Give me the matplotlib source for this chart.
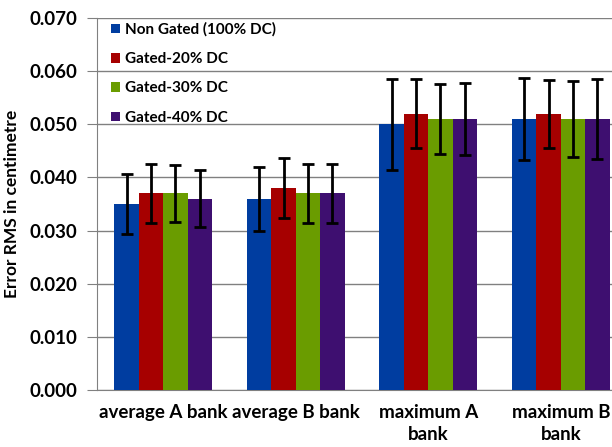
import numpy as np
import matplotlib.pyplot as plt

# datos
categorias = ['average A bank', 'average B bank', 'maximum A\nbank', 'maximum B\nbank']
series = ['Non Gated (100% DC)', 'Gated-20% DC', 'Gated-30% DC', 'Gated-40% DC']

non_gated = [0.035, 0.036, 0.050, 0.051]
gated_20 = [0.037, 0.038, 0.052, 0.052]
gated_30 = [0.037, 0.037, 0.051, 0.051]
gated_40 = [0.036, 0.037, 0.051, 0.051]

err_non_gated = [0.0057, 0.0060, 0.0086, 0.0078]
err_gated_20 = [0.0055, 0.0057, 0.0065, 0.0064]
err_gated_30 = [0.0053, 0.0056, 0.0065, 0.0071]
err_gated_40 = [0.0054, 0.0055, 0.0068, 0.0075]

colores = ['#003da0', '#a60000', '#6a9c00', '#3e0f70']

plt.rcParams['font.family'] = ['Lato', 'DejaVu Sans']
plt.rcParams['font.weight'] = 'bold'

fig = plt.figure(figsize=(6.12, 4.47), dpi=100)
# el área del gráfico se sale por la derecha, como en el original
ax = fig.add_axes([97/612, 1 - 390/447, 530/612, 372/447])

x = np.arange(len(categorias))
ancho = 0.184
valores = [non_gated, gated_20, gated_30, gated_40]
errores = [err_non_gated, err_gated_20, err_gated_30, err_gated_40]

for i, (v, e) in enumerate(zip(valores, errores)):
    ax.bar(x + (i - 1.5) * ancho, v, ancho, color=colores[i], label=series[i],
           yerr=e, capsize=4, error_kw=dict(ecolor='black', elinewidth=2, capthick=2),
           zorder=3)

ax.set_xlim(-0.5, 3.5)
ax.set_ylim(0, 0.070)
ax.set_yticks(np.arange(0, 0.0701, 0.01))
ax.set_yticklabels([f'{t:.3f}' for t in np.arange(0, 0.0701, 0.01)], fontsize=13.5, fontweight='bold')
ax.set_xticks(x)
ax.set_xticklabels(categorias, fontsize=13.5, fontweight='bold', linespacing=1.35)
ax.tick_params(axis='x', length=0, pad=10)
ax.tick_params(axis='y', length=7, color='#808080', pad=7)
ax.grid(axis='y', color='#808080', linewidth=1, zorder=0)
for s in ['top', 'right']:
    ax.spines[s].set_visible(False)
for s in ['left', 'bottom']:
    ax.spines[s].set_color('#808080')
ax.set_ylabel('Error RMS in centimetre', fontsize=12.5, fontweight='bold', labelpad=7)

ax.legend(loc='upper left', bbox_to_anchor=(0.0, 1.025), frameon=False,
          handlelength=0.6, handleheight=0.6, handletextpad=0.35, labelspacing=1.0,
          prop=dict(weight='bold', size=11))

fig.savefig('out.png', dpi=100)
